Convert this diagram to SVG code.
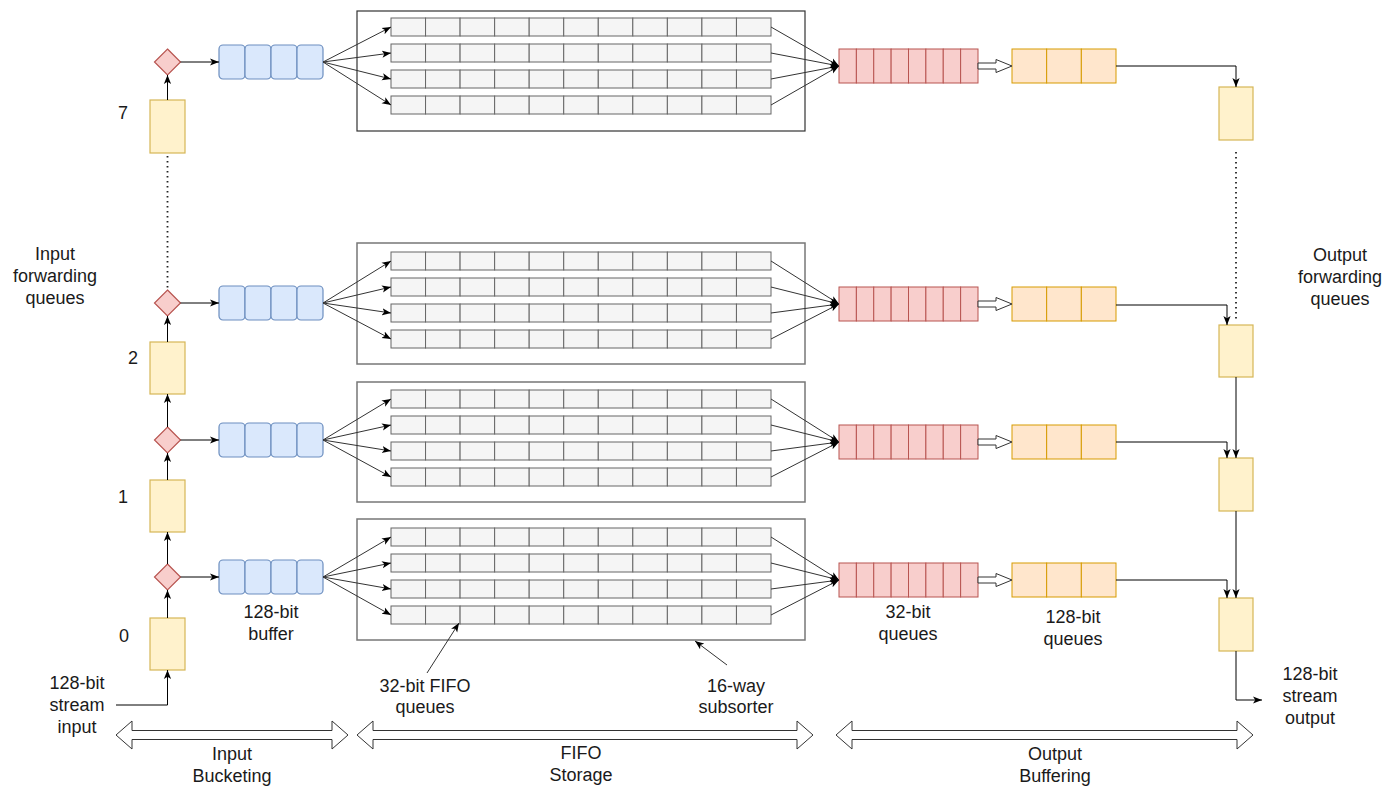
<svg xmlns="http://www.w3.org/2000/svg" xmlns:xlink="http://www.w3.org/1999/xlink" width="1400" height="786" viewBox="0 0 1400 786">
  <style>
    .lbl { font-family: "Liberation Sans", Arial, sans-serif; font-size: 18px; fill: #1a1a1a; text-anchor: middle; }
    .yel { fill: #fff2cc; stroke: #d6b656; stroke-width: 1.2; }
    .dia { fill: #f8cecc; stroke: #b85450; stroke-width: 1.2; }
    .blu { fill: #dae8fc; stroke: #6c8ebf; stroke-width: 1.2; }
    .red { fill: #f8cecc; stroke: #b85450; stroke-width: 1; }
    .org { fill: #ffe6cc; stroke: #d79b00; stroke-width: 1; }
    .cell { fill: #f5f5f5; stroke: #666666; stroke-width: 1; }
    .box { fill: #ffffff; stroke: #333333; stroke-width: 1.2; }
    .box2 { fill: #ffffff; stroke: #777777; stroke-width: 1.5; }
    .wire { fill: none; stroke: #000000; stroke-width: 1; }
    .fan { fill: none; stroke: #333333; stroke-width: 1; }
    .dot { fill: none; stroke: #222222; stroke-width: 1.8; stroke-dasharray: 1.5 3.5; }
    .hollow { fill: #ffffff; stroke: #333333; stroke-width: 1; }
  </style>
  <defs>
    <marker id="arr" viewBox="0 0 10 10" refX="10" refY="5" markerWidth="9" markerHeight="9" markerUnits="userSpaceOnUse" orient="auto">
      <path d="M0,1 L10,5 L0,9 L2.5,5 Z" fill="#000000"/>
    </marker>
    <!-- one 32-bit FIFO lane: 11 cells -->
    <g id="fifoRow">
      <rect class="cell" x="0" y="0" width="34.55" height="18"/>
      <rect class="cell" x="34.55" y="0" width="34.55" height="18"/>
      <rect class="cell" x="69.09" y="0" width="34.55" height="18"/>
      <rect class="cell" x="103.64" y="0" width="34.55" height="18"/>
      <rect class="cell" x="138.18" y="0" width="34.55" height="18"/>
      <rect class="cell" x="172.73" y="0" width="34.55" height="18"/>
      <rect class="cell" x="207.27" y="0" width="34.55" height="18"/>
      <rect class="cell" x="241.82" y="0" width="34.55" height="18"/>
      <rect class="cell" x="276.36" y="0" width="34.55" height="18"/>
      <rect class="cell" x="310.91" y="0" width="34.55" height="18"/>
      <rect class="cell" x="345.45" y="0" width="34.55" height="18"/>
    </g>
    <!-- 128-bit input buffer: 4 rounded slots -->
    <g id="bufBlue">
      <rect class="blu" x="0" y="-17" width="26" height="34" rx="4"/>
      <rect class="blu" x="26" y="-17" width="26" height="34" rx="4"/>
      <rect class="blu" x="52" y="-17" width="26" height="34" rx="4"/>
      <rect class="blu" x="78" y="-17" width="26" height="34" rx="4"/>
    </g>
    <!-- 32-bit output queue: 8 slots -->
    <g id="qRed">
      <rect class="red" x="0" y="-17" width="17.375" height="34"/>
      <rect class="red" x="17.375" y="-17" width="17.375" height="34"/>
      <rect class="red" x="34.75" y="-17" width="17.375" height="34"/>
      <rect class="red" x="52.125" y="-17" width="17.375" height="34"/>
      <rect class="red" x="69.5" y="-17" width="17.375" height="34"/>
      <rect class="red" x="86.875" y="-17" width="17.375" height="34"/>
      <rect class="red" x="104.25" y="-17" width="17.375" height="34"/>
      <rect class="red" x="121.625" y="-17" width="17.375" height="34"/>
    </g>
    <!-- 128-bit output queue: 3 slots -->
    <g id="qOrange">
      <rect class="org" x="0" y="-17" width="34.67" height="34"/>
      <rect class="org" x="34.67" y="-17" width="34.67" height="34"/>
      <rect class="org" x="69.33" y="-17" width="34.67" height="34"/>
    </g>
    <!-- small hollow transfer arrow between queues -->
    <path id="hArrow" class="hollow" d="M0,-3 L18,-3 L18,-6.5 L34,0 L18,6.5 L18,3 L0,3 Z"/>
  </defs>

  <!-- ===== subsorter boxes with FIFO lanes ===== -->
  <g id="subsorter7">
    <rect class="box" x="357" y="11" width="448" height="120"/>
    <use xlink:href="#fifoRow" x="391" y="18"/>
    <use xlink:href="#fifoRow" x="391" y="44"/>
    <use xlink:href="#fifoRow" x="391" y="70"/>
    <use xlink:href="#fifoRow" x="391" y="96"/>
  </g>
  <g id="subsorter2">
    <rect class="box2" x="357" y="243" width="448" height="121"/>
    <use xlink:href="#fifoRow" x="391" y="252"/>
    <use xlink:href="#fifoRow" x="391" y="278"/>
    <use xlink:href="#fifoRow" x="391" y="304"/>
    <use xlink:href="#fifoRow" x="391" y="330"/>
  </g>
  <g id="subsorter1">
    <rect class="box2" x="357" y="382" width="448" height="120"/>
    <use xlink:href="#fifoRow" x="391" y="390"/>
    <use xlink:href="#fifoRow" x="391" y="416"/>
    <use xlink:href="#fifoRow" x="391" y="442"/>
    <use xlink:href="#fifoRow" x="391" y="468"/>
  </g>
  <g id="subsorter0">
    <rect class="box2" x="357" y="519" width="448" height="121"/>
    <use xlink:href="#fifoRow" x="391" y="528"/>
    <use xlink:href="#fifoRow" x="391" y="554"/>
    <use xlink:href="#fifoRow" x="391" y="580"/>
    <use xlink:href="#fifoRow" x="391" y="606"/>
  </g>

  <!-- ===== input forwarding queues ===== -->
  <g id="inQ7"><rect class="yel" x="150" y="100" width="35" height="53"/></g>
  <g id="inQ2"><rect class="yel" x="150" y="342" width="35" height="52"/></g>
  <g id="inQ1"><rect class="yel" x="150" y="480" width="35" height="52"/></g>
  <g id="inQ0"><rect class="yel" x="150" y="618" width="35" height="52"/></g>

  <!-- ===== routing decisions ===== -->
  <g id="route7"><path class="dia" d="M167.5,49 L180.5,62 L167.5,75 L154.5,62 Z"/></g>
  <g id="route2"><path class="dia" d="M167.5,290 L180.5,303 L167.5,316 L154.5,303 Z"/></g>
  <g id="route1"><path class="dia" d="M167.5,427 L180.5,440 L167.5,453 L154.5,440 Z"/></g>
  <g id="route0"><path class="dia" d="M167.5,564 L180.5,577 L167.5,590 L154.5,577 Z"/></g>

  <!-- ===== 128-bit input buffers ===== -->
  <g id="buffer7"><use xlink:href="#bufBlue" x="219" y="62"/></g>
  <g id="buffer2"><use xlink:href="#bufBlue" x="219" y="303"/></g>
  <g id="buffer1"><use xlink:href="#bufBlue" x="219" y="440"/></g>
  <g id="buffer0"><use xlink:href="#bufBlue" x="219" y="577"/></g>

  <!-- ===== 32-bit output queues ===== -->
  <g id="q32_7"><use xlink:href="#qRed" x="839" y="66"/></g>
  <g id="q32_2"><use xlink:href="#qRed" x="839" y="304"/></g>
  <g id="q32_1"><use xlink:href="#qRed" x="839" y="442"/></g>
  <g id="q32_0"><use xlink:href="#qRed" x="839" y="580"/></g>

  <!-- ===== 128-bit output queues ===== -->
  <g id="q128_7"><use xlink:href="#qOrange" x="1012" y="66"/></g>
  <g id="q128_2"><use xlink:href="#qOrange" x="1012" y="304"/></g>
  <g id="q128_1"><use xlink:href="#qOrange" x="1012" y="442"/></g>
  <g id="q128_0"><use xlink:href="#qOrange" x="1012" y="580"/></g>

  <!-- ===== output forwarding queues ===== -->
  <g id="outQ7"><rect class="yel" x="1219" y="87" width="34" height="53"/></g>
  <g id="outQ2"><rect class="yel" x="1219" y="325" width="34" height="52"/></g>
  <g id="outQ1"><rect class="yel" x="1219" y="458" width="34" height="53"/></g>
  <g id="outQ0"><rect class="yel" x="1219" y="598" width="34" height="53"/></g>

  <!-- ===== connectors ===== -->
  <g id="connectors">
    <!-- input chain -->
    <path class="wire" d="M116,705 L167.5,705 L167.5,670" marker-end="url(#arr)"/>
    <path class="wire" d="M167.5,618 L167.5,590" marker-end="url(#arr)"/>
    <path class="wire" d="M167.5,564 L167.5,532" marker-end="url(#arr)"/>
    <path class="wire" d="M167.5,480 L167.5,453" marker-end="url(#arr)"/>
    <path class="wire" d="M167.5,427 L167.5,394" marker-end="url(#arr)"/>
    <path class="wire" d="M167.5,342 L167.5,316" marker-end="url(#arr)"/>
    <path class="dot" d="M167.5,156 L167.5,289"/>
    <path class="wire" d="M167.5,100 L167.5,75" marker-end="url(#arr)"/>

    <!-- route to buffer -->
    <path class="wire" d="M180.5,62 L219,62" marker-end="url(#arr)"/>
    <path class="wire" d="M180.5,303 L219,303" marker-end="url(#arr)"/>
    <path class="wire" d="M180.5,440 L219,440" marker-end="url(#arr)"/>
    <path class="wire" d="M180.5,577 L219,577" marker-end="url(#arr)"/>

    <!-- fan-out into FIFO lanes -->
    <path class="fan" d="M323,62 L391,27" marker-end="url(#arr)"/>
    <path class="fan" d="M323,62 L391,53" marker-end="url(#arr)"/>
    <path class="fan" d="M323,62 L391,79" marker-end="url(#arr)"/>
    <path class="fan" d="M323,62 L391,105" marker-end="url(#arr)"/>

    <path class="fan" d="M323,303 L391,261" marker-end="url(#arr)"/>
    <path class="fan" d="M323,303 L391,287" marker-end="url(#arr)"/>
    <path class="fan" d="M323,303 L391,313" marker-end="url(#arr)"/>
    <path class="fan" d="M323,303 L391,339" marker-end="url(#arr)"/>

    <path class="fan" d="M323,440 L391,399" marker-end="url(#arr)"/>
    <path class="fan" d="M323,440 L391,425" marker-end="url(#arr)"/>
    <path class="fan" d="M323,440 L391,451" marker-end="url(#arr)"/>
    <path class="fan" d="M323,440 L391,477" marker-end="url(#arr)"/>

    <path class="fan" d="M323,577 L391,537" marker-end="url(#arr)"/>
    <path class="fan" d="M323,577 L391,563" marker-end="url(#arr)"/>
    <path class="fan" d="M323,577 L391,589" marker-end="url(#arr)"/>
    <path class="fan" d="M323,577 L391,615" marker-end="url(#arr)"/>

    <!-- fan-in to 32-bit queues -->
    <path class="fan" d="M771,27 L839,66" marker-end="url(#arr)"/>
    <path class="fan" d="M771,53 L839,66" marker-end="url(#arr)"/>
    <path class="fan" d="M771,79 L839,66" marker-end="url(#arr)"/>
    <path class="fan" d="M771,105 L839,66" marker-end="url(#arr)"/>

    <path class="fan" d="M771,261 L839,304" marker-end="url(#arr)"/>
    <path class="fan" d="M771,287 L839,304" marker-end="url(#arr)"/>
    <path class="fan" d="M771,313 L839,304" marker-end="url(#arr)"/>
    <path class="fan" d="M771,339 L839,304" marker-end="url(#arr)"/>

    <path class="fan" d="M771,399 L839,442" marker-end="url(#arr)"/>
    <path class="fan" d="M771,425 L839,442" marker-end="url(#arr)"/>
    <path class="fan" d="M771,451 L839,442" marker-end="url(#arr)"/>
    <path class="fan" d="M771,477 L839,442" marker-end="url(#arr)"/>

    <path class="fan" d="M771,537 L839,580" marker-end="url(#arr)"/>
    <path class="fan" d="M771,563 L839,580" marker-end="url(#arr)"/>
    <path class="fan" d="M771,589 L839,580" marker-end="url(#arr)"/>
    <path class="fan" d="M771,615 L839,580" marker-end="url(#arr)"/>

    <!-- 32-bit to 128-bit transfer -->
    <use xlink:href="#hArrow" x="978" y="66"/>
    <use xlink:href="#hArrow" x="978" y="304"/>
    <use xlink:href="#hArrow" x="978" y="442"/>
    <use xlink:href="#hArrow" x="978" y="580"/>

    <!-- output chain -->
    <path class="wire" d="M1116,66 L1236,66 L1236,87" marker-end="url(#arr)"/>
    <path class="dot" d="M1236,152 L1236,320"/>
    <path class="wire" d="M1116,305 L1227,305 L1227,325" marker-end="url(#arr)"/>
    <path class="wire" d="M1236,377 L1236,458" marker-end="url(#arr)"/>
    <path class="wire" d="M1116,442 L1227,442 L1227,458" marker-end="url(#arr)"/>
    <path class="wire" d="M1236,511 L1236,598" marker-end="url(#arr)"/>
    <path class="wire" d="M1116,580 L1227,580 L1227,598" marker-end="url(#arr)"/>
    <path class="wire" d="M1236,651 L1236,700 L1262,700" marker-end="url(#arr)"/>

    <!-- annotation pointers -->
    <path class="fan" d="M427,673 L459,623" marker-end="url(#arr)"/>
    <path class="fan" d="M727,665 L695,641" marker-end="url(#arr)"/>

    <!-- stage extent arrows -->
    <path class="hollow" d="M116,735 L132,721 L132,730.5 L332,730.5 L332,721 L348,735 L332,749 L332,739.5 L132,739.5 L132,749 Z"/>
    <path class="hollow" d="M357,735 L373,721 L373,730.5 L797,730.5 L797,721 L813,735 L797,749 L797,739.5 L373,739.5 L373,749 Z"/>
    <path class="hollow" d="M836,735 L852,721 L852,730.5 L1237,730.5 L1237,721 L1253,735 L1237,749 L1237,739.5 L852,739.5 L852,749 Z"/>
  </g>

  <!-- ===== labels ===== -->
  <g id="labels">
    <text class="lbl" x="123" y="119">7</text>
    <text class="lbl" x="133" y="364">2</text>
    <text class="lbl" x="123" y="503">1</text>
    <text class="lbl" x="124" y="642">0</text>

    <text class="lbl" x="55" y="260">Input</text>
    <text class="lbl" x="55" y="282">forwarding</text>
    <text class="lbl" x="55" y="304">queues</text>

    <text class="lbl" x="1340" y="261">Output</text>
    <text class="lbl" x="1340" y="283">forwarding</text>
    <text class="lbl" x="1340" y="305">queues</text>

    <text class="lbl" x="271" y="618">128-bit</text>
    <text class="lbl" x="271" y="640">buffer</text>

    <text class="lbl" x="77" y="689">128-bit</text>
    <text class="lbl" x="77" y="711">stream</text>
    <text class="lbl" x="77" y="733">input</text>

    <text class="lbl" x="425" y="692">32-bit FIFO</text>
    <text class="lbl" x="425" y="713">queues</text>

    <text class="lbl" x="736" y="692">16-way</text>
    <text class="lbl" x="736" y="713">subsorter</text>

    <text class="lbl" x="908" y="618">32-bit</text>
    <text class="lbl" x="908" y="640">queues</text>

    <text class="lbl" x="1073" y="623">128-bit</text>
    <text class="lbl" x="1073" y="645">queues</text>

    <text class="lbl" x="1310" y="680">128-bit</text>
    <text class="lbl" x="1310" y="702">stream</text>
    <text class="lbl" x="1310" y="724">output</text>

    <text class="lbl" x="232" y="760">Input</text>
    <text class="lbl" x="232" y="782">Bucketing</text>

    <text class="lbl" x="581" y="759">FIFO</text>
    <text class="lbl" x="581" y="781">Storage</text>

    <text class="lbl" x="1055" y="760">Output</text>
    <text class="lbl" x="1055" y="782">Buffering</text>
  </g>
</svg>
